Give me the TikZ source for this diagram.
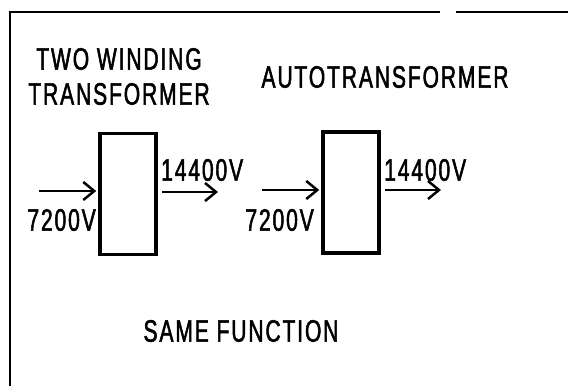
\documentclass[tikz,border=0pt]{standalone}
\usepackage{fontspec}
\setmainfont{Liberation Sans}[FakeStretch=0.68,FakeBold=1.6,LetterSpace=6]
\usetikzlibrary{arrows.meta}
\begin{document}
\begin{tikzpicture}[x=1pt,y=-1pt,
  lbl/.style={inner sep=0pt,font=\fontsize{31}{35}\selectfont},
  tbox/.style={draw,line width=3.5pt,minimum width=56pt,minimum height=121pt,inner sep=0pt},
  flow/.style={line width=2.5pt,-{Straight Barb[length=11pt,width=18pt,line width=2.5pt]}},
  frame/.style={line width=2.5pt}]
\useasboundingbox (0,0) rectangle (568,386);
% frame
\coordinate (fl) at (10,12);
\coordinate (fb) at (10,386);
\coordinate (ft) at (440,12);
\coordinate (fs) at (456,12);
\coordinate (fe) at (568,12);
\draw[frame] (fb) -- (fl) -- (ft);
\draw[frame] (fs) -- (fe);
% titles
\node[lbl] (t1) at (119,59) {TWO WINDING};
\node[lbl] (t2) at (119,94) {TRANSFORMER};
\node[lbl] (t3) at (385,77) {AUTOTRANSFORMER};
% boxes
\node[tbox] (b1) at (128,194) {};
\node[tbox] (b2) at (351,192.5) {};
% arrows
\coordinate (i1) at (39,191);
\coordinate (o1s) at (162,192);
\coordinate (o1) at (218,192);
\coordinate (i2) at (262,190);
\coordinate (o2s) at (385,190);
\coordinate (o2) at (441,190);
\draw[flow,shorten >=2pt] (i1) -- (b1.west |- i1);
\draw[flow] (o1s) -- (o1);
\draw[flow,shorten >=2pt] (i2) -- (b2.west |- i2);
\draw[flow] (o2s) -- (o2);
% voltage labels
\node[lbl,anchor=east] (v1) at (96,220) {7200V};
\node[lbl,anchor=west] (v2) at (161,170) {14400V};
\node[lbl,anchor=east] (v3) at (314,220) {7200V};
\node[lbl,anchor=west] (v4) at (384,170) {14400V};
% bottom
\node[lbl] (sf) at (241,331) {SAME FUNCTION};
\end{tikzpicture}
\end{document}
